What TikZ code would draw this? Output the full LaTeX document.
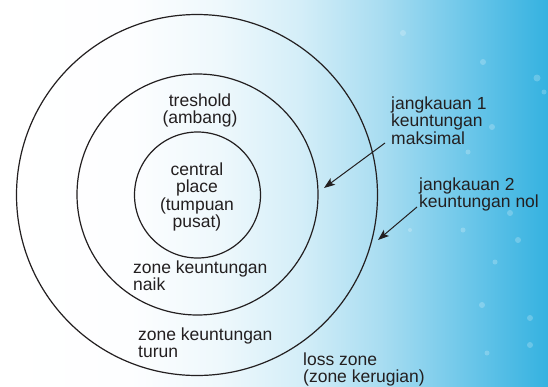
\documentclass[tikz,border=0pt]{standalone}
\usepackage{fontspec}
\setmainfont{Liberation Sans}
\usetikzlibrary{arrows.meta}
\definecolor{ink}{HTML}{231F20}
\definecolor{bgA}{HTML}{FDFEFF}
\definecolor{bgB}{HTML}{EEF8FC}
\definecolor{bgC}{HTML}{D4EEF8}
\definecolor{bgD}{HTML}{A9DDF1}
\definecolor{bgE}{HTML}{78CBEB}
\definecolor{bgF}{HTML}{55BEE6}
\definecolor{bgG}{HTML}{35B2E0}
% 25bp..75bp of the shading are mapped onto the path (x: 0..548 px)
\pgfdeclarehorizontalshading{bgshade}{100bp}{%
  color(0bp)=(white); color(25bp)=(white); color(36.9bp)=(bgA);
  color(45.1bp)=(bgB); color(52.4bp)=(bgC); color(59.7bp)=(bgD);
  color(66.1bp)=(bgE); color(70.6bp)=(bgF); color(75bp)=(bgG);
  color(100bp)=(bgG)}
\tikzset{
  ring/.style={circle, draw=ink, line width=1.2pt, inner sep=0pt},
  lbl/.style={font=\fontsize{17.5}{17.5}\selectfont, text=ink, inner sep=0pt},
  pointer/.style={draw=ink, line width=1pt, -{Stealth[length=11pt,width=8pt,inset=2.5pt]}},
  speck/.style={fill=white, opacity=0.22}
}
\begin{document}
\begin{tikzpicture}[x=1pt,y=-1pt]
\useasboundingbox (0,0) rectangle (548,386);
\shade[shading=bgshade] (0,0) rectangle (548,386);
% faint sparkles
\foreach \x/\y/\r in {483/62/3, 537/78/3.5, 544/92/2.5, 492/127/3, 468/152/2.5, 510/213/3,
  463/230/2.5, 518/240/3, 495/262/2.5, 482/305/3, 530/318/3, 530/345/3, 487/353/2.5, 403/33/3, 410/230/2}
  \fill[speck] (\x,\y) circle (\r);
% rings
\node[ring, minimum size=361pt] (outer) at (197,195) {};
\node[ring, minimum size=241pt] (middle) at (197.5,194.5) {};
\node[ring, minimum size=126pt] (inner) at (197.5,195) {};
% labels (base anchor = baseline of the last line)
\node[lbl, anchor=base, align=center] (thr) at (200,123.5) {treshold\\(ambang)};
\node[lbl, anchor=base, align=center] (cen) at (197,227.5) {central\\place\\(tumpuan\\pusat)};
\node[lbl, anchor=base west, align=left] (naik) at (133,290.5) {zone keuntungan\\naik};
\node[lbl, anchor=base west, align=left] (turun) at (138,357.5) {zone keuntungan\\turun};
\node[lbl, anchor=base west, align=left] (loss) at (303,382.5) {loss zone\\(zone kerugian)};
\node[lbl, anchor=base west, align=left] (j1) at (391,144) {jangkauan 1\\keuntungan\\maksimal};
\node[lbl, anchor=base west, align=left] (j2) at (419,207.5) {jangkauan 2\\keuntungan nol};
% pointers
\coordinate (a1s) at (385,143);
\coordinate (a1e) at (324,188);
\coordinate (a2s) at (417,207);
\coordinate (a2e) at (378,240);
\draw[pointer] (a1s) -- (a1e);
\draw[pointer] (a2s) -- (a2e);
\end{tikzpicture}
\end{document}
